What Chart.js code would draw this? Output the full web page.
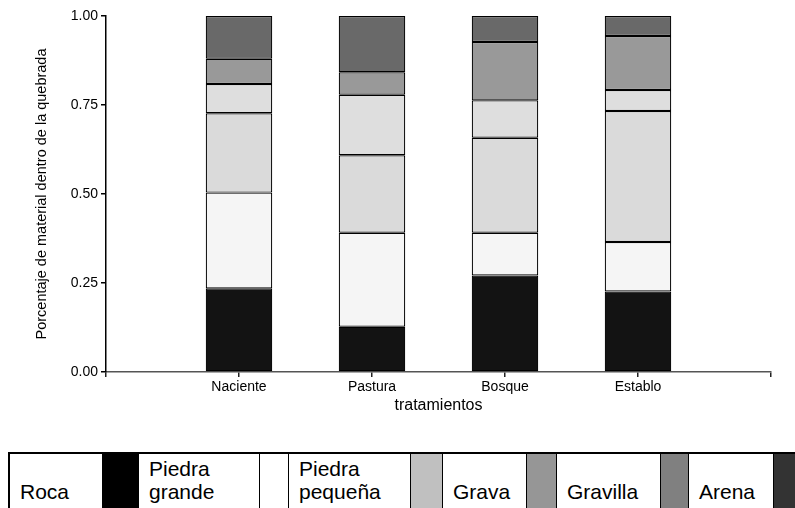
<!DOCTYPE html>
<html>
<head>
<meta charset="utf-8">
<script src="https://cdn.jsdelivr.net/npm/chart.js@4"></script>
<style>
  html, body { margin: 0; padding: 0; background: #fff; overflow: hidden; }
  body { width: 795px; height: 508px; position: relative; font-family: "Liberation Sans", Arial, sans-serif; }
  #wrap { position: absolute; left: 0; top: 0; width: 795px; height: 425px; }
  #leyenda { position: absolute; left: 8px; top: 452px; display: flex; border-top: 2px solid #000; border-left: 2px solid #000; height: 70px; }
  #leyenda .txt { box-sizing: border-box; display: flex; flex-direction: column; justify-content: flex-end; padding: 0 0 21px 10px; font-size: 21px; line-height: 23px; color: #000; white-space: nowrap; }
  #leyenda .sw { box-sizing: border-box; border-left: 1px solid #000; border-right: 1px solid #000; }
</style>
</head>
<body>
<div id="wrap"><canvas id="grafico"></canvas></div>
<div id="leyenda"></div>
<script>
// datos (proporciones, de abajo hacia arriba)
const tratamientos = ['Naciente', 'Pastura', 'Bosque', 'Establo'];
const roca          = [0.235, 0.127, 0.271, 0.226];
const piedraGrande  = [0.269, 0.264, 0.120, 0.139];
const piedraPequena = [0.223, 0.218, 0.267, 0.368];
const grava         = [0.082, 0.170, 0.105, 0.059];
const gravilla      = [0.071, 0.063, 0.164, 0.152];
const arena         = [0.120, 0.158, 0.073, 0.056];
const yTicks = [0, 0.25, 0.5, 0.75, 1];

const series = [
  { nombre: 'Roca', datos: roca, color: '#131313', leyenda: '#000000', linea: ['Roca'] },
  { nombre: 'Piedra grande', datos: piedraGrande, color: '#f5f5f5', leyenda: '#ffffff', linea: ['Piedra', 'grande'] },
  { nombre: 'Piedra pequeña', datos: piedraPequena, color: '#dadada', leyenda: '#c0c0c0', linea: ['Piedra', 'pequeña'] },
  { nombre: 'Grava', datos: grava, color: '#dedede', leyenda: '#969696', linea: ['Grava'] },
  { nombre: 'Gravilla', datos: gravilla, color: '#999999', leyenda: '#808080', linea: ['Gravilla'] },
  { nombre: 'Arena', datos: arena, color: '#696969', leyenda: '#333333', linea: ['Arena'] }
];

// categorias vacias a los lados para dejar el eje como en el original
const etiquetas = [''].concat(tratamientos, ['']);

window.addEventListener('load', () => {
  const ctx = document.querySelector('#grafico').getContext('2d');

  const datasets = series.map(s => ({
    label: s.nombre,
    data: [null].concat(s.datos, [null]),
    backgroundColor: s.color,
    borderColor: '#000',
    borderWidth: 1.2,
    borderSkipped: false,
    barPercentage: 0.5,
    categoryPercentage: 1.0
  }));

  new Chart(ctx, {
    type: 'bar',
    data: { labels: etiquetas, datasets: datasets },
    options: {
      responsive: true,
      maintainAspectRatio: false,
      animation: false,
      layout: { padding: { top: 16, right: 24, left: 0, bottom: 0 } },
      plugins: { legend: { display: false }, tooltip: { enabled: false } },
      scales: {
        x: {
          stacked: true,
          offset: false,
          grid: { offset: false, drawOnChartArea: false, tickLength: 5, color: '#222', lineWidth: 1.5 },
          border: { display: true, color: '#555', width: 1.5 },
          ticks: { color: '#000', font: { family: 'Liberation Sans', size: 14 }, padding: 2, maxRotation: 0, autoSkip: false },
          title: { display: true, text: 'tratamientos', color: '#000', font: { family: 'Liberation Sans', size: 16 }, padding: { top: 0, bottom: 10 } },
          afterFit: (scale) => { scale.height = 53; }
        },
        y: {
          stacked: true,
          min: 0,
          max: 1,
          afterBuildTicks: (scale) => { scale.ticks = yTicks.map(v => ({ value: v })); },
          grid: { drawOnChartArea: false, tickLength: 5, color: '#000', lineWidth: 1.5 },
          border: { display: true, color: '#000', width: 1.5 },
          ticks: { color: '#000', font: { family: 'Liberation Sans', size: 14 }, padding: 3, callback: v => Number(v).toFixed(2) },
          title: { display: true, text: 'Porcentaje de material dentro de la quebrada', color: '#000', font: { family: 'Liberation Sans', size: 14.5 }, padding: { top: 33, bottom: 0 } },
          afterFit: (scale) => { scale.width = 106; }
        }
      }
    }
  });

  // leyenda en forma de tabla: texto y luego la muestra de color
  const anchoTexto = [92, 120, 121, 83, 103, 84];
  const anchoMuestra = [37, 30, 33, 31, 29, 40];
  const ley = document.querySelector('#leyenda');
  series.forEach((s, i) => {
    const t = document.createElement('div');
    t.className = 'txt';
    t.style.width = anchoTexto[i] + 'px';
    s.linea.forEach(l => {
      const d = document.createElement('div');
      d.textContent = l;
      t.appendChild(d);
    });
    const m = document.createElement('div');
    m.className = 'sw';
    m.style.width = anchoMuestra[i] + 'px';
    m.style.background = s.leyenda;
    ley.appendChild(t);
    ley.appendChild(m);
  });
});
</script>
</body>
</html>
